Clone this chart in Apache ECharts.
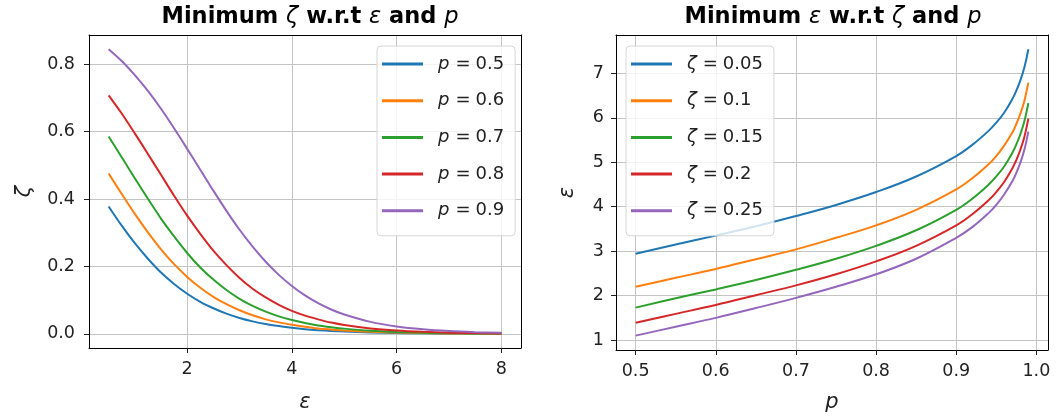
<!DOCTYPE html>
<html>
<head>
<meta charset="utf-8">
<script src="https://cdn.jsdelivr.net/npm/echarts@6/dist/echarts.min.js"></script>
<style>
  html, body { margin: 0; padding: 0; background: #fff; }
  #chart { width: 1059px; height: 418px; }
</style>
</head>
<body>
<div id="chart"></div>
<script>
// left panel: minimum zeta for each epsilon, one curve per p
const epsValues = [0.5, 0.75, 1, 1.25, 1.5, 1.75, 2, 2.25, 2.5, 2.75, 3, 3.25, 3.5, 3.75, 4, 4.25, 4.5, 4.75, 5,
                   5.5, 6, 6.5, 7, 7.5, 8];
const pNames = ['0.5', '0.6', '0.7', '0.8', '0.9'];
const zetaP05 = [0.378, 0.321, 0.269, 0.223, 0.182, 0.148, 0.119, 0.095, 0.076, 0.060, 0.047, 0.037, 0.029, 0.023, 0.018, 0.014, 0.011, 0.0086, 0.0067,
                 0.0041, 0.0025, 0.0015, 0.0009, 0.0006, 0.0003];
const zetaP06 = [0.476, 0.415, 0.356, 0.301, 0.251, 0.207, 0.169, 0.137, 0.110, 0.088, 0.070, 0.055, 0.043, 0.034, 0.027, 0.021, 0.016, 0.0128, 0.0100,
                 0.0061, 0.0037, 0.0023, 0.0014, 0.0008, 0.0005];
const zetaP07 = [0.586, 0.524, 0.462, 0.401, 0.342, 0.289, 0.240, 0.197, 0.161, 0.130, 0.104, 0.083, 0.066, 0.052, 0.041, 0.032, 0.025, 0.0198, 0.0155,
                 0.0094, 0.0058, 0.0035, 0.0021, 0.0013, 0.0008];
const zetaP08 = [0.708, 0.654, 0.595, 0.534, 0.472, 0.410, 0.351, 0.297, 0.247, 0.204, 0.166, 0.134, 0.108, 0.086, 0.068, 0.054, 0.043, 0.0334, 0.0262,
                 0.0161, 0.0098, 0.0060, 0.0036, 0.0022, 0.0013];
const zetaP09 = [0.845, 0.810, 0.768, 0.721, 0.668, 0.610, 0.549, 0.487, 0.425, 0.365, 0.309, 0.259, 0.214, 0.175, 0.142, 0.114, 0.091, 0.0722, 0.0572,
                 0.0355, 0.0218, 0.0134, 0.0081, 0.0050, 0.0030];

// right panel: minimum epsilon for each p, one curve per zeta
const pValues = [0.5, 0.55, 0.6, 0.65, 0.7, 0.75, 0.8, 0.85, 0.9, 0.92, 0.94, 0.95, 0.96, 0.97, 0.975, 0.98, 0.985, 0.99];
const zetaNames = ['0.05', '0.1', '0.15', '0.2', '0.25'];
const epsZ005 = [2.94, 3.15, 3.35, 3.56, 3.79, 4.04, 4.33, 4.68, 5.14, 5.39, 5.70, 5.89, 6.12, 6.42, 6.61, 6.84, 7.13, 7.54];
const epsZ010 = [2.20, 2.40, 2.60, 2.82, 3.04, 3.30, 3.58, 3.93, 4.39, 4.64, 4.95, 5.14, 5.38, 5.67, 5.86, 6.09, 6.38, 6.79];
const epsZ015 = [1.73, 1.94, 2.14, 2.35, 2.58, 2.83, 3.12, 3.47, 3.93, 4.18, 4.49, 4.68, 4.91, 5.21, 5.40, 5.63, 5.92, 6.33];
const epsZ020 = [1.39, 1.59, 1.79, 2.01, 2.23, 2.48, 2.77, 3.12, 3.58, 3.83, 4.14, 4.33, 4.56, 4.86, 5.05, 5.28, 5.57, 5.98];
const epsZ025 = [1.10, 1.30, 1.50, 1.72, 1.95, 2.20, 2.48, 2.83, 3.30, 3.54, 3.85, 4.04, 4.28, 4.57, 4.76, 4.99, 5.28, 5.69];

const leftXTicks = [2, 4, 6, 8];
const leftYTicks = [0, 0.2, 0.4, 0.6, 0.8];
const rightXTicks = [0.5, 0.6, 0.7, 0.8, 0.9, 1.0];
const rightYTicks = [1, 2, 3, 4, 5, 6, 7];

const colors = ['#1f77b4', '#ff7f0e', '#2ca02c', '#d62728', '#9467bd'];
const textColor = '#222';
const font = 'DejaVu Sans';

function pairs(xs, ys) {
    return xs.map((x, i) => [x, ys[i]]);
}

function makeXAxis(gridIndex, min, max, ticks, digits, name, gap) {
    return {
        type: 'value', gridIndex: gridIndex, min: min, max: max,
        name: name, nameLocation: 'middle', nameGap: gap,
        nameTextStyle: { fontFamily: font, fontStyle: 'italic', fontSize: 21, color: textColor },
        axisLine: { show: true, onZero: false, lineStyle: { color: '#000', width: 1 } },
        axisTick: { show: true, length: 5, inside: false, customValues: ticks, lineStyle: { color: textColor, width: 1 } },
        axisLabel: { customValues: ticks, margin: 12, fontFamily: font, fontSize: 17.5, color: textColor,
            formatter: (v) => digits ? v.toFixed(digits) : String(v) },
        splitLine: { show: true, lineStyle: { color: '#c4c4c4', width: 1 } }
    };
}

function makeYAxis(gridIndex, min, max, ticks, digits, name, gap, margin) {
    return {
        type: 'value', gridIndex: gridIndex, min: min, max: max,
        name: name, nameLocation: 'middle', nameGap: gap, nameRotate: 90,
        nameTextStyle: { fontFamily: font, fontStyle: 'italic', fontSize: 21, color: textColor },
        axisLine: { show: true, onZero: false, lineStyle: { color: '#000', width: 1 } },
        axisTick: { show: true, length: 5, inside: false, customValues: ticks, lineStyle: { color: textColor, width: 1 } },
        axisLabel: { customValues: ticks, margin: margin, fontFamily: font, fontSize: 17.5, color: textColor,
            formatter: (v) => digits ? v.toFixed(digits) : String(v) },
        splitLine: { show: true, lineStyle: { color: '#c4c4c4', width: 1 } }
    };
}

// plain axis used only to close the frame on the top / right side
function frameAxis(gridIndex, position) {
    return {
        type: 'value', gridIndex: gridIndex, position: position, min: 0, max: 1,
        axisLine: { show: true, onZero: false, lineStyle: { color: '#000', width: 1 } },
        axisTick: { show: false }, axisLabel: { show: false }, splitLine: { show: false }
    };
}

const leftSets = [zetaP05, zetaP06, zetaP07, zetaP08, zetaP09];
const rightSets = [epsZ005, epsZ010, epsZ015, epsZ020, epsZ025];

let series = [];
leftSets.forEach((ys, i) => {
    series.push({
        name: 'p' + pNames[i], type: 'line', xAxisIndex: 0, yAxisIndex: 0,
        data: pairs(epsValues, ys), showSymbol: false, smooth: 0.3,
        lineStyle: { width: 2, color: colors[i] }, itemStyle: { color: colors[i] }
    });
});
rightSets.forEach((ys, i) => {
    series.push({
        name: 'z' + zetaNames[i], type: 'line', xAxisIndex: 1, yAxisIndex: 1,
        data: pairs(pValues, ys), showSymbol: false, smooth: 0.4,
        lineStyle: { width: 2, color: colors[i] }, itemStyle: { color: colors[i] }
    });
});

const richText = {
    i: { fontFamily: font, fontStyle: 'italic', fontSize: 18, color: textColor },
    e: { fontFamily: font, fontSize: 18, color: textColor, padding: [0, 5, 0, 6] },
    n: { fontFamily: font, fontSize: 18, color: textColor }
};
const titleRich = {
    b: { fontFamily: font, fontWeight: 'bold', fontSize: 22.5, color: '#000' },
    i: { fontFamily: font, fontStyle: 'italic', fontWeight: 'normal', fontSize: 22.5, color: '#000' }
};

function makeLegend(left, names, prefix, symbol) {
    return {
        left: left, top: 46, orient: 'vertical',
        data: names.map((n) => prefix + n),
        icon: 'rect', itemWidth: 41, itemHeight: 3, itemGap: 14.7,
        padding: [7, 11, 14, 5],
        backgroundColor: 'rgba(255,255,255,0.8)',
        borderColor: '#d6d6d6', borderWidth: 1, borderRadius: 4,
        textStyle: { padding: [0, 0, 0, 10], lineHeight: 22, rich: richText },
        formatter: (name) => '{i|' + symbol + '}{e|=}{n|' + name.slice(1) + '}',
        selectedMode: false
    };
}

let chart = echarts.init(document.getElementById('chart'));
let option = {
    animation: false,
    title: [
        { text: '{b|Minimum }{i|ζ}{b| w.r.t }{i|ε}{b| and }{i|p}', left: 305, top: 1, textAlign: 'center',
          textStyle: { fontWeight: 'normal', rich: titleRich } },
        { text: '{b|Minimum }{i|ε}{b| w.r.t }{i|ζ}{b| and }{i|p}', left: 828, top: 1, textAlign: 'center',
          textStyle: { fontWeight: 'normal', rich: titleRich } }
    ],
    grid: [
        { left: 89, top: 35, width: 432, height: 315 },
        { left: 616, top: 35, width: 432, height: 315 }
    ],
    xAxis: [
        makeXAxis(0, 0.125, 8.375, leftXTicks, 0, 'ε', 44),
        makeXAxis(1, 0.4755, 1.0145, rightXTicks, 1, 'p', 42),
        frameAxis(0, 'top'),
        frameAxis(1, 'top')
    ],
    yAxis: [
        makeYAxis(0, -0.042, 0.887, leftYTicks, 1, 'ζ', 54, 14),
        makeYAxis(1, 0.777, 7.862, rightYTicks, 0, 'ε', 38, 12),
        frameAxis(0, 'right'),
        frameAxis(1, 'right')
    ],
    legend: [
        makeLegend(377, pNames, 'p', 'p'),
        makeLegend(626, zetaNames, 'z', 'ζ')
    ],
    series: series
};
chart.setOption(option);
</script>
</body>
</html>
